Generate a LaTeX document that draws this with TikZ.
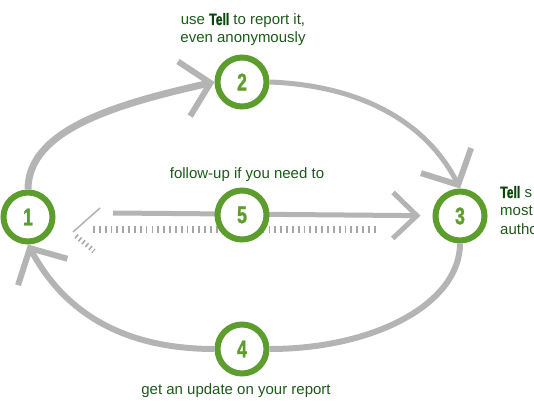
\documentclass[tikz,border=0pt]{standalone}
\usepackage{fontspec}
\setmainfont{Liberation Sans}
\newfontfamily\condfont[FakeStretch=0.74,FakeBold=1.2]{Liberation Sans}
\usetikzlibrary{arrows.meta}
\pgfdeclarelayer{bg}
\pgfsetlayers{bg,main}

\definecolor{ringgreen}{HTML}{5C9D2E}
\definecolor{textgreen}{HTML}{1D5A19}
\definecolor{tellgreen}{HTML}{0A450A}
\definecolor{loopgray}{HTML}{B4B4B4}
\definecolor{tickgray}{HTML}{A6A6A6}
\newcommand{\tellword}{{\condfont\bfseries\fontsize{16.5}{18}\selectfont\color{tellgreen}Tell}}

\begin{document}
\begin{tikzpicture}[x=1pt,y=-1pt,
    ring/.style={circle,draw=ringgreen,line width=6pt,fill=white,minimum size=49pt,inner sep=0pt,
      text=ringgreen,font=\condfont\bfseries\fontsize{24}{24}\selectfont},
    loopline/.style={draw=loopgray,line width=#1},
    barb/.style={-{Straight Barb[length=27pt,width=56pt,line width=6pt]}},
    caption/.style={text=textgreen,font=\fontsize{15}{18}\selectfont,align=center,inner sep=0pt,anchor=base}]
  \useasboundingbox (0,0) rectangle (534,419);
  \clip (0,0) rectangle (534,419);

  \draw[tickgray,line width=7pt,dash pattern=on 1.8pt off 4.05pt] (93,229.5) coordinate (tickL) -- (376,229.5) coordinate (tickR);

  \foreach \name/\x/\y/\num in {n1/28/217/1,n2/242/82/2,n3/460/216/3,n4/242/349/4,n5/242/215/5}
    \node[ring] (\name) at (\x,\y) {\num};

  \coordinate (tail) at (113,213);
  \begin{pgfonlayer}{bg}
    \draw[loopline=5pt,-{Straight Barb[length=24pt,width=46pt,line width=5pt]},shorten >=12pt] (tail) -- (n3);
  \end{pgfonlayer}
  \coordinate (ghost) at (73,232);
  \draw[loopgray,line width=1.6pt] (ghost) -- ++(27,-24);
  \draw[tickgray,line width=5pt,dash pattern=on 1.5pt off 3pt] (ghost) ++(3,4) -- ++(18,15);

  \draw[loopline=7pt,barb] (n1.north) .. controls +(0,-60) and +(-98,22) .. (n2.west);
  \draw[loopline=5pt,barb] (n2.east) .. controls +(105,4) and +(-28,-56) .. (n3.north);
  \draw[loopline=6pt] (n3.south) .. controls +(0,60) and +(105,0) .. (n4.east);
  \draw[loopline=6pt,barb] (n4.west) .. controls +(-105,0) and +(30,56) .. (n1.south);

  \node[caption] (top) at (243,43) {use \tellword{} to report it,\\even anonymously};
  \node[caption] (mid) at (247,179) {follow-up if you need to};
  \node[caption] (bottom) at (236,394) {get an update on your report};
  \node[caption,align=left,anchor=base west] (side) at (500,234) {\tellword{} s\\most\\autho};
\end{tikzpicture}
\end{document}
